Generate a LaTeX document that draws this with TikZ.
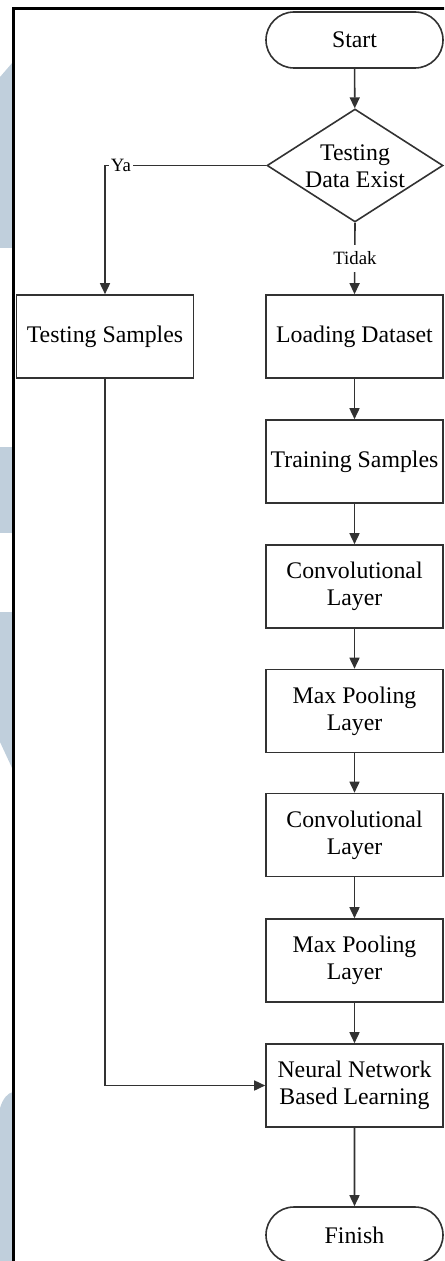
\documentclass[tikz,border=0pt]{standalone}
\usepackage{fontspec}
\setmainfont{Liberation Serif}
\usetikzlibrary{arrows.meta,shapes.geometric,shapes.misc}
\definecolor{wmark}{RGB}{192,207,220}
\definecolor{edge}{RGB}{50,50,50}
\begin{document}
\begin{tikzpicture}[x=0.5pt,y=-0.5pt,
  base/.style={draw=edge,line width=0.8pt,fill=white,align=center,
    font=\fontsize{11.9}{13.5}\selectfont,inner sep=0pt},
  procbox/.style={base,rectangle,minimum width=88.5pt,minimum height=41.5pt},
  term/.style={base,rounded rectangle,minimum width=88.5pt,minimum height=28pt},
  decision/.style={draw=edge,line width=0.8pt,diamond,minimum width=88pt,
    minimum height=56.5pt,inner sep=0pt},
  arr/.style={draw=edge,line width=0.8pt,-{Triangle[width=5pt,length=5.5pt]}},
  tag/.style={fill=white,font=\fontsize{9.4}{11}\selectfont,inner xsep=1pt,inner ysep=3.5pt}]
\useasboundingbox (0,0) rectangle (444,1261);
\clip (0,0) rectangle (444,1261);

% faint background shapes along the left margin
\fill[wmark] (0,77) -- (13,62) -- (13,248) -- (0,248) -- cycle;
\fill[wmark] (0,447) rectangle (13,533);
\fill[wmark] (0,612) -- (13,612) -- (13,770) -- (0,742) -- cycle;
\fill[wmark] (0,1261) -- (0,1108) .. controls (3,1098) and (8,1093) .. (13,1092) -- (13,1261) -- cycle;

% frame
\draw[line width=1.5pt] (13.5,1265) -- (13.5,8.5) -- (448,8.5);

% flowchart nodes
\node[term] (start) at (354.5,40) {Start};
\node[decision] (dec) at (355,165.5) {};
\node[align=center,font=\fontsize{11.9}{13.5}\selectfont,inner sep=0pt] (dectext) at (355,166) {Testing\\Data Exist};
\node[procbox] (ts) at (105,336.5) {Testing Samples};
\node[procbox] (ld) at (354.5,336.5) {Loading Dataset};
\node[procbox] (tr) at (354.5,461.5) {Training Samples};
\node[procbox] (c1) at (354.5,586.5) {Convolutional\\Layer};
\node[procbox] (p1) at (354.5,711) {Max Pooling\\Layer};
\node[procbox] (c2) at (354.5,835) {Convolutional\\Layer};
\node[procbox] (p2) at (354.5,960.5) {Max Pooling\\Layer};
\node[procbox] (nn) at (354.5,1085.5) {Neural Network\\Based Learning};
\node[term] (fin) at (354.5,1235) {Finish};

% connectors
\draw[arr] (start) -- (dec);
\draw[arr] (dec.west) -| (ts.north);
\node[tag] (ya) at (121,165.5) {Ya};
\draw[arr] (dec.south) -- (ld.north);
\node[tag] (tidak) at (355,258.5) {Tidak};
\draw[arr] (ld) -- (tr);
\draw[arr] (tr) -- (c1);
\draw[arr] (c1) -- (p1);
\draw[arr] (p1) -- (c2);
\draw[arr] (c2) -- (p2);
\draw[arr] (p2) -- (nn);
\draw[arr] (ts.south) |- (nn.west);
\draw[arr] (nn) -- (fin);
\end{tikzpicture}
\end{document}
